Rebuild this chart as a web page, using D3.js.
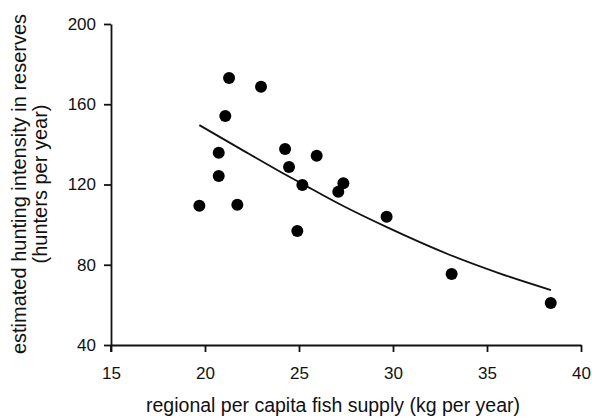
<!DOCTYPE html>
<html>
<head>
<meta charset="utf-8">
<script src="https://cdn.jsdelivr.net/npm/d3@7/dist/d3.min.js"></script>
<style>
  html, body { margin: 0; padding: 0; background: #fff; }
  svg { display: block; }
  text { font-family: "Liberation Sans", Arial, Helvetica, sans-serif; fill: #111; }
</style>
</head>
<body>
<svg id="chart" width="592" height="420"></svg>
<script>
// Reserves: regional fish supply (kg per capita per year) vs estimated hunting intensity
const fishSupply = [19.7, 20.73, 20.73, 21.08, 21.28, 21.72, 22.98, 24.26, 24.47, 24.91, 25.18, 25.94, 27.09, 27.36, 29.66, 33.12, 38.39];
const huntIntensity = [109.4, 124.2, 135.8, 154.1, 173.1, 109.9, 168.7, 137.7, 128.7, 96.8, 119.7, 134.3, 116.4, 120.6, 103.9, 75.4, 60.9];

// Fitted trend line
const fitSupply = [19.7, 22.2, 24.0, 25.2, 27.2, 29.7, 33.0, 35.7, 38.4];
const fitIntensity = [149.6, 136.0, 126.4, 120.2, 110.0, 98.6, 85.0, 75.6, 67.4];

const xTicks = [15, 20, 25, 30, 35, 40];
const yTicks = [40, 80, 120, 160, 200];

const svg = d3.select("#chart");

const x = d3.scaleLinear().domain([15, 40]).range([111, 581]);
const y = d3.scaleLinear().domain([40, 200]).range([345, 24]);

// Axes
const xAxis = svg.append("g")
  .attr("transform", `translate(0,${y(40)})`)
  .call(d3.axisBottom(x).tickValues(xTicks).tickSize(7).tickSizeOuter(0).tickPadding(15).tickFormat(d3.format("d")));

const yAxis = svg.append("g")
  .attr("transform", `translate(${x(15)},0)`)
  .call(d3.axisLeft(y).tickValues(yTicks).tickSize(7).tickSizeOuter(0).tickPadding(8).tickFormat(d3.format("d")));

[xAxis, yAxis].forEach(g => {
  g.select(".domain").attr("stroke", "#111").attr("stroke-width", 1.8);
  g.selectAll(".tick line").attr("stroke", "#111").attr("stroke-width", 1.8);
  g.selectAll(".tick text")
    .attr("font-family", "Liberation Sans, Arial, sans-serif")
    .attr("font-size", 17)
    .attr("fill", "#111");
});

// Extend the y-axis slightly below the x-axis to form the corner cross
svg.append("line")
  .attr("x1", x(15)).attr("x2", x(15))
  .attr("y1", y(40)).attr("y2", y(40) + 7)
  .attr("stroke", "#111").attr("stroke-width", 1.8);

// Trend curve
const fitData = fitSupply.map((v, i) => [v, fitIntensity[i]]);
svg.append("path")
  .datum(fitData)
  .attr("fill", "none")
  .attr("stroke", "#111")
  .attr("stroke-width", 1.8)
  .attr("d", d3.line().x(d => x(d[0])).y(d => y(d[1])).curve(d3.curveMonotoneX));

// Points
const pts = fishSupply.map((v, i) => [v, huntIntensity[i]]);
svg.append("g")
  .selectAll("circle")
  .data(pts)
  .join("circle")
  .attr("cx", d => x(d[0]))
  .attr("cy", d => y(d[1]))
  .attr("r", 6)
  .attr("fill", "#000");

// Axis titles
svg.append("text")
  .attr("x", 333)
  .attr("y", 412)
  .attr("text-anchor", "middle")
  .attr("font-size", 19.5)
  .text("regional per capita fish supply (kg per year)");

const yTitle = svg.append("text")
  .attr("transform", "translate(0,184) rotate(-90)")
  .attr("text-anchor", "middle")
  .attr("font-size", 20);
yTitle.append("tspan").attr("x", 0).attr("y", 26).text("estimated hunting intensity in reserves");
yTitle.append("tspan").attr("x", 0).attr("y", 47).text("(hunters per year)");
</script>
</body>
</html>
